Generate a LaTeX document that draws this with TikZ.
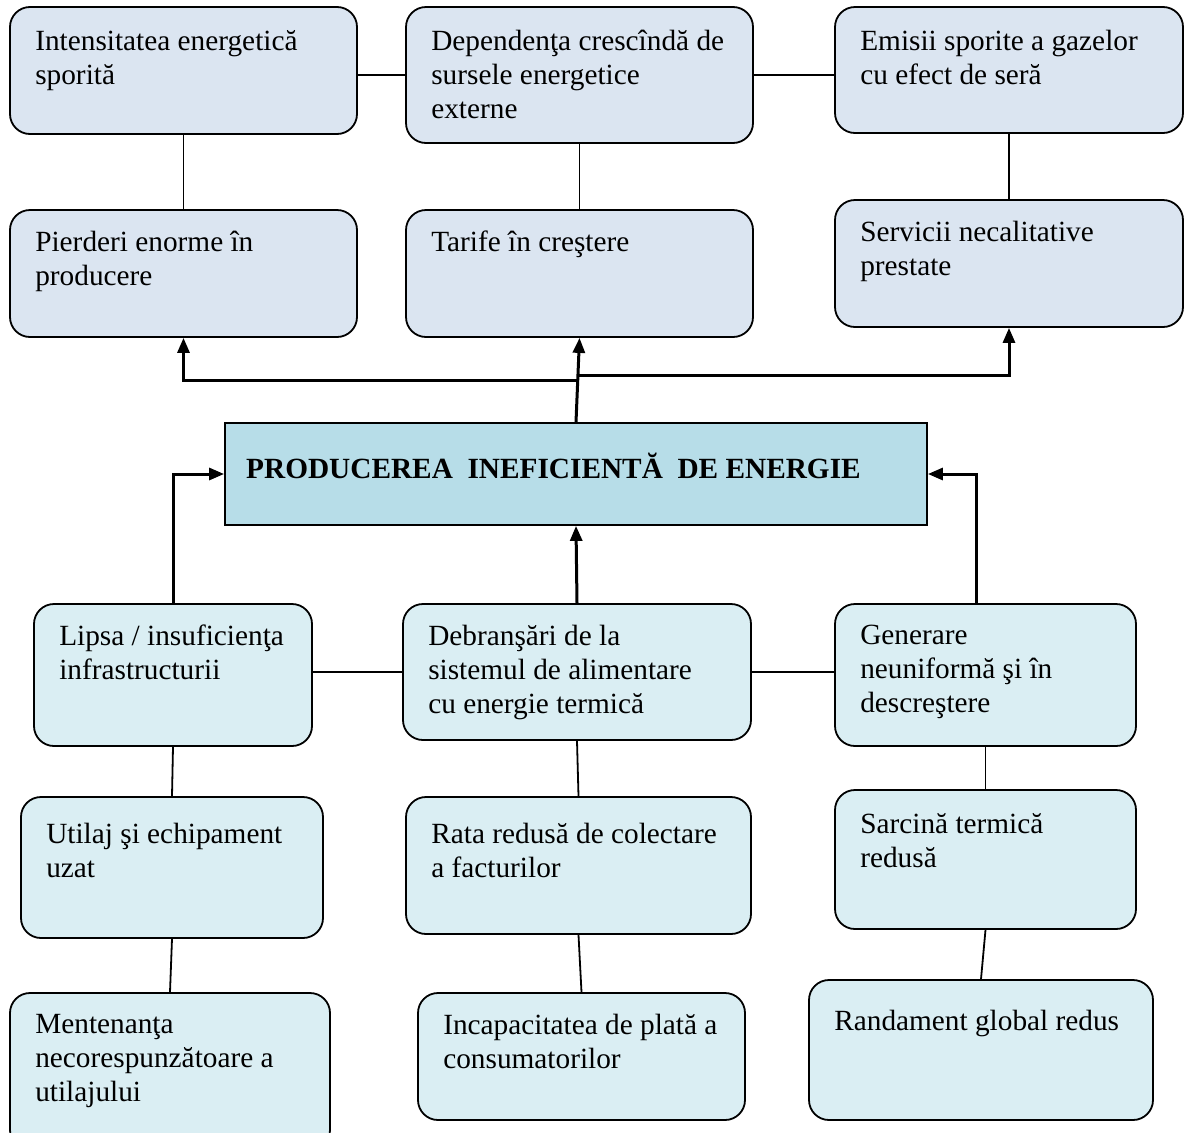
\documentclass[tikz,border=0pt]{standalone}
\usepackage{fontspec}
\setmainfont{Liberation Serif}
\usetikzlibrary{arrows.meta,fit}
\definecolor{topfill}{HTML}{DBE5F1}
\definecolor{lowfill}{HTML}{DAEEF3}
\definecolor{midfill}{HTML}{B7DDE8}
\newcommand\mkbox[8]{%
  \node[#6, fit={(#2,#3) (#4,#5)}] (#1) {};
  \node[txt] (#1t) at ([xshift=26pt,yshift=-#7pt]#1.north west) {#8};
}
\begin{document}
\begin{tikzpicture}[x=1pt,y=-1pt,
  box/.style={draw, line width=1.8pt, rounded corners=20pt, inner sep=0pt},
  tbox/.style={box, fill=topfill},
  lbox/.style={box, fill=lowfill},
  txt/.style={anchor=north west, inner sep=0pt, align=left, font=\fontsize{29.3}{34}\selectfont},
  arr/.style={line width=3pt, -{Triangle[length=15pt,width=12pt]}},
  ln/.style={line width=1.8pt}]
\useasboundingbox (0,0) rectangle (1184,1133);
% top row
\mkbox{b1}{10}{7}{357}{134}{tbox}{24}{Intensitatea energetică\\sporită}
\mkbox{b2}{406}{7}{753}{143}{tbox}{24}{Dependenţa crescîndă de\\sursele energetice\\externe}
\mkbox{b3}{835}{7}{1183}{133}{tbox}{24}{Emisii sporite a gazelor\\cu efect de seră}
% second row
\mkbox{b4}{10}{210}{357}{337}{tbox}{22}{Pierderi enorme în\\producere}
\mkbox{b5}{406}{210}{753}{337}{tbox}{22}{Tarife în creştere}
\mkbox{b6}{835}{200}{1183}{327}{tbox}{22}{Servicii necalitative\\prestate}
% central
\node[draw, line width=1.8pt, fill=midfill, inner sep=0pt, fit={(225,423) (927,525)}] (c) {};
\node[anchor=base west, inner sep=0pt, font=\bfseries\fontsize{29.3}{34}\selectfont] (ct) at (246,478) {PRODUCEREA\ \ INEFICIENTĂ\ \ DE ENERGIE};
% fourth row
\mkbox{b7}{34}{604}{312}{746}{lbox}{22}{Lipsa / insuficienţa\\infrastructurii}
\mkbox{b8}{403}{604}{751}{740}{lbox}{22}{Debranşări de la\\sistemul de alimentare\\cu energie termică}
\mkbox{b9}{835}{604}{1136}{746}{lbox}{22}{Generare\\neuniformă şi în\\descreştere}
% fifth row
\mkbox{b10}{21}{797}{323}{938}{lbox}{27}{Utilaj şi echipament\\uzat}
\mkbox{b11}{406}{797}{751}{934}{lbox}{27}{Rata redusă de colectare\\a facturilor}
\mkbox{b12}{835}{790}{1136}{929}{lbox}{24}{Sarcină termică\\redusă}
% sixth row
\mkbox{b13}{10}{993}{330}{1150}{lbox}{22}{Mentenanţa\\necorespunzătoare a\\utilajului}
\mkbox{b14}{418}{993}{745}{1120}{lbox}{22}{Incapacitatea de plată a\\consumatorilor}
\mkbox{b15}{809}{980}{1153}{1120}{lbox}{31}{Randament global redus}
% thin connectors, top
\draw[ln] (b1.east |- b2.west) -- (b2.west);
\draw[ln] (b2.east) -- (b2.east -| b3.west);
\draw[ln] (b1.south) -- (b4.north);
\draw[ln] (b2.south) -- (b5.north);
\draw[ln] (b3.south) -- (b6.north);
% thick arrows from central box upwards
\coordinate (jl) at (578,380);
\coordinate (jr) at (578,375);
\draw[arr] (c.north) -- (b5.south);
\draw[arr] (jl) -| (b4.south);
\draw[arr] (jr) -| (b6.south);
% thick arrows into central box
\draw[arr] (b7.north) |- (c.west);
\draw[arr] (b8.north) -- (c.south);
\coordinate (b9a) at ([xshift=-9pt]b9.north);
\draw[arr] (b9a) |- (c.east);
% thin connectors, bottom
\draw[ln] (b7.east |- b8.west) -- (b8.west);
\draw[ln] (b8.east) -- (b8.east -| b9.west);
\draw[ln] (b7.south) -- (b10.north);
\draw[ln] (b10.south) -- (b13.north);
\draw[ln] (b8.south) -- (b11.north);
\draw[ln] (b11.south) -- (b14.north);
\draw[ln] (b9.south) -- (b12.north);
\draw[ln] (b12.south) -- (b15.north);
\end{tikzpicture}
\end{document}
